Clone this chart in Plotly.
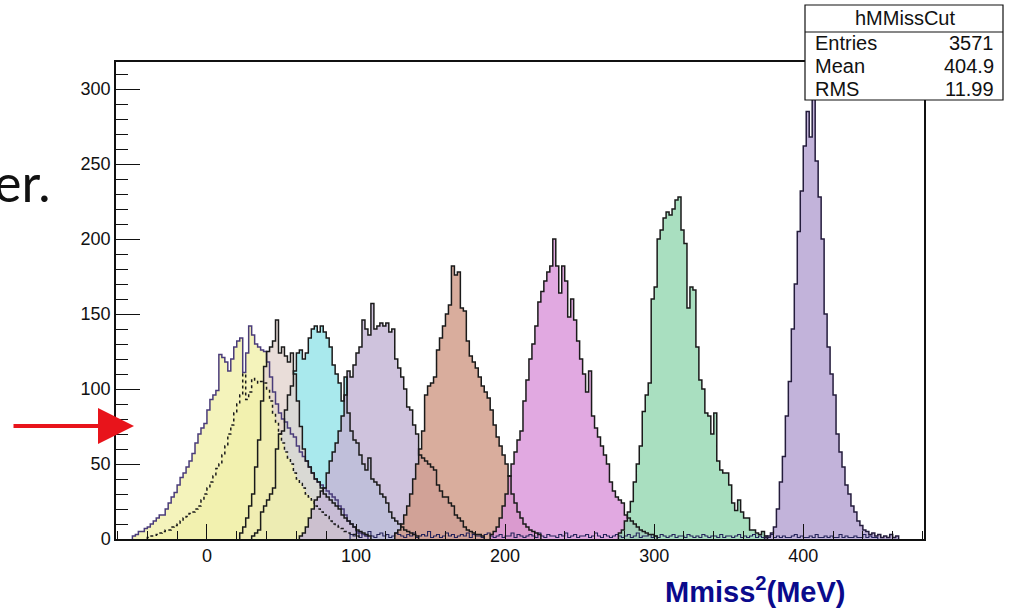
import plotly.graph_objects as go

# ---------------- data (bin width 2, counts typed from the picture) ----------------
BIN_W = 2

# outer yellow histogram (purple outline)
yel_start = -50
yel_counts = [2, 3, 5, 5, 7, 8, 10, 12, 14, 16, 16, 20, 24, 28, 31, 36, 41, 44, 48, 52,
              57, 64, 70, 74, 77, 86, 93, 96, 99, 123, 121, 118, 112, 120, 128, 132, 134, 111, 124, 142,
              136, 130, 128, 126, 125, 118, 108, 98, 90, 84, 80, 78, 74, 70, 68, 62, 58, 55, 52, 48,
              44, 40, 38, 36, 34, 32, 30, 28, 26, 22, 20, 16, 12, 10, 8, 5, 4, 3, 2]

# beige histogram
bei_start = 22
bei_counts = [4, 8, 14, 22, 30, 48, 66, 92, 115, 125, 128, 132, 146, 124, 128, 122, 118, 124, 110, 92,
              75, 60, 52, 48, 44, 40, 38, 34, 30, 28, 26, 24, 22, 20, 16, 14, 12, 10, 8, 6,
              5, 4, 3, 2]

# dotted-outline yellow histogram
dot_start = -40
dot_counts = [1, 2, 2, 3, 4, 5, 6, 6, 8, 9, 10, 12, 14, 15, 17, 18, 20, 22, 26, 30,
              34, 38, 42, 47, 50, 56, 62, 70, 76, 84, 90, 96, 110, 93, 98, 107, 106, 104, 105, 104,
              100, 92, 84, 78, 70, 64, 58, 54, 50, 44, 40, 37, 34, 30, 28, 26, 22, 20, 18, 16,
              15, 12, 10, 9, 8, 7, 5, 4, 3, 3, 2]

# cyan histogram
cya_start = 30
cya_counts = [2, 4, 6, 18, 22, 26, 30, 34, 60, 70, 72, 86, 96, 102, 112, 124, 126, 120, 124, 134,
              140, 142, 138, 142, 138, 134, 128, 116, 110, 104, 92, 108, 84, 72, 66, 64, 56, 50, 46, 54,
              40, 38, 36, 30, 28, 24, 18, 14, 12, 10, 8, 6, 5, 4, 3, 2]

# lavender histogram
lav_start = 62
lav_counts = [2, 4, 8, 14, 20, 26, 28, 32, 34, 44, 52, 58, 64, 72, 82, 96, 112, 108, 116, 124,
              128, 146, 140, 136, 157, 140, 142, 144, 142, 144, 138, 140, 120, 114, 108, 100, 88, 86, 76, 70,
              56, 54, 52, 50, 48, 46, 36, 32, 28, 28, 24, 22, 16, 14, 12, 8, 6, 5, 4, 3,
              3, 2]

# salmon histogram
sal_start = 126
sal_counts = [4, 6, 10, 16, 22, 30, 40, 50, 60, 72, 96, 102, 104, 108, 126, 134, 142, 150, 156, 182,
              176, 178, 154, 152, 132, 122, 118, 114, 108, 102, 98, 94, 86, 76, 68, 62, 56, 50, 42, 30,
              24, 18, 14, 10, 8, 6, 5, 4, 3]

# magenta histogram
mag_start = 190
mag_counts = [3, 5, 8, 14, 22, 30, 42, 50, 58, 66, 72, 92, 106, 120, 130, 142, 158, 165, 172, 178,
              182, 200, 182, 164, 182, 172, 148, 160, 146, 132, 120, 110, 98, 112, 82, 74, 68, 62, 56, 50,
              38, 32, 28, 26, 24, 16, 14, 12, 10, 8, 6, 5, 4, 3, 3, 2]

# green histogram
grn_start = 276
grn_counts = [4, 6, 12, 18, 25, 38, 50, 62, 85, 96, 104, 160, 168, 200, 206, 214, 218, 216, 220, 226,
              228, 206, 197, 154, 168, 166, 128, 106, 100, 84, 82, 70, 84, 52, 46, 44, 44, 36, 24, 19,
              26, 18, 14, 14, 6, 6, 4, 3, 5, 2]

# purple histogram (hMMissCut)
pur_start = 374
pur_counts = [1, 2, 4, 8, 20, 38, 55, 82, 105, 140, 170, 205, 232, 262, 285, 268, 302, 252, 228, 200,
              150, 128, 110, 96, 70, 58, 48, 36, 30, 22, 18, 12, 9, 6, 5, 3, 4, 2, 3, 1,
              2, 1, 3, 1, 2]

# low-level background line along the bottom
bkg_start = 96
bkg_counts = [3, 2, 4, 1, 3, 2, 5, 2, 1, 3, 4, 2, 3, 1, 2, 4, 3, 2, 1, 3,
              2, 4, 1, 2, 3, 2, 5, 1, 2, 3, 1, 2, 4, 2, 3, 1, 2, 3, 2, 4,
              1, 3, 2, 2, 1, 3, 4, 2, 1, 2, 3, 1, 2, 2, 4, 1, 3, 2, 1, 2,
              3, 2, 1, 4, 2, 1, 3, 2, 2, 1, 3, 2, 4, 1, 2, 3, 1, 2, 2, 3,
              1, 2, 4, 2, 1, 3, 2, 1, 2, 3, 2, 1, 2, 3, 1, 2, 4, 1, 2, 2,
              3, 1, 2, 1, 3, 2, 1, 2, 3, 1, 2, 2, 1, 3, 2, 1, 2, 1, 3, 2,
              1, 2, 2, 1, 3, 1, 2, 2, 1, 2, 3, 1, 2, 1, 2, 3, 1, 2, 1, 2,
              1, 3, 1, 2, 1, 2, 1, 1, 2, 3, 1, 2, 1, 1, 2, 1, 3, 1, 1, 2,
              1, 2, 1, 1, 3, 1, 2, 1, 1, 2, 1, 1, 3, 1, 2, 1, 1]

x_ticks = [0, 100, 200, 300, 400]
y_ticks = [0, 50, 100, 150, 200, 250, 300]

stats_title = "hMMissCut"
stats_rows = [("Entries", "3571"), ("Mean", "404.9"), ("RMS", "11.99")]

# ---------------- figure ----------------
W, H = 1013, 610
ML, MR, MT, MB = 116, 89, 62, 71
PW, PH = W - ML - MR, H - MT - MB


def px(x):
    return (x - ML) / PW


def py(y):
    return (H - MB - y) / PH


def step_xy(start, counts):
    xs, ys = [start], [0]
    for i, c in enumerate(counts):
        xs.append(start + i * BIN_W)
        ys.append(c)
    xs.append(start + len(counts) * BIN_W)
    ys.append(0)
    return xs, ys


A = 0.82
hists = [
    # start, counts, fill, line colour, dash
    (yel_start, yel_counts, f"rgba(242,240,172,{A})", "#4a3c7a", "solid"),
    (cya_start, cya_counts, f"rgba(150,228,233,{A})", "#1a1a1a", "solid"),
    (bei_start, bei_counts, f"rgba(228,214,209,{A})", "#1a1a1a", "solid"),
    (dot_start, dot_counts, f"rgba(242,240,172,{A})", "#1a1a1a", "dot"),
    (lav_start, lav_counts, f"rgba(196,182,214,{A})", "#1a1a1a", "solid"),
    (sal_start, sal_counts, f"rgba(209,155,136,{A})", "#1a1a1a", "solid"),
    (mag_start, mag_counts, f"rgba(219,150,219,{A})", "#1a1a1a", "solid"),
    (grn_start, grn_counts, f"rgba(150,216,178,{A})", "#1a1a1a", "solid"),
    (pur_start, pur_counts, f"rgba(180,162,210,{A})", "#241c3c", "solid"),
]

fig = go.Figure()
for start, counts, fc, lc, dash in hists:
    xs, ys = step_xy(start, counts)
    fig.add_trace(go.Scatter(x=xs, y=ys, mode="lines", line=dict(width=0, shape="hv"),
                             fill="tozeroy", fillcolor=fc, hoverinfo="skip", showlegend=False))
bx, by = step_xy(bkg_start, bkg_counts)
fig.add_trace(go.Scatter(x=bx, y=by, mode="lines", line=dict(width=1.1, shape="hv", color="#23235a"),
                         hoverinfo="skip", showlegend=False))
for start, counts, fc, lc, dash in hists:
    xs, ys = step_xy(start, counts)
    fig.add_trace(go.Scatter(x=xs, y=ys, mode="lines",
                             line=dict(width=1.5, shape="hv", color=lc, dash=dash),
                             hoverinfo="skip", showlegend=False))

axis_font = dict(family="Liberation Sans, Arial, sans-serif", size=18, color="#111111")
fig.update_xaxes(range=[-61, 481], tickvals=x_ticks, ticks="inside", ticklen=15, tickwidth=1.2,
                 tickcolor="#111111", showgrid=False, zeroline=False, showline=True, mirror=True,
                 linecolor="#111111", linewidth=1.5, tickfont=axis_font,
                 minor=dict(dtick=20, tick0=0, ticks="inside", ticklen=8, tickcolor="#111111", tickwidth=1))
fig.update_yaxes(range=[0, 318], tickvals=y_ticks, ticks="inside", ticklen=24, tickwidth=1.2,
                 tickcolor="#111111", showgrid=False, zeroline=False, showline=True, mirror=True,
                 linecolor="#111111", linewidth=1.5, tickfont=axis_font,
                 minor=dict(dtick=10, tick0=0, ticks="inside", ticklen=12, tickcolor="#111111", tickwidth=1))

shapes = [
    dict(type="rect", xref="paper", yref="paper", x0=px(805), x1=px(1003), y0=py(100), y1=py(5),
         fillcolor="white", line=dict(color="#111111", width=1.2), layer="above"),
    dict(type="line", xref="paper", yref="paper", x0=px(805), x1=px(1003), y0=py(32), y1=py(32),
         line=dict(color="#111111", width=1.2), layer="above"),
]

stat_font = dict(family="Liberation Sans, Arial, sans-serif", size=20, color="#111111")
annotations = [
    dict(text=stats_title, xref="paper", yref="paper", x=px(905), y=py(18), showarrow=False,
         xanchor="center", yanchor="middle", font=stat_font),
]
for i, (lab, val) in enumerate(stats_rows):
    yy = py(43 + 23 * i)
    annotations.append(dict(text=lab, xref="paper", yref="paper", x=px(813), y=yy, showarrow=False,
                            xanchor="left", yanchor="middle", font=stat_font))
    annotations.append(dict(text=val, xref="paper", yref="paper", x=px(996), y=yy, showarrow=False,
                            xanchor="right", yanchor="middle", font=stat_font))

# x-axis title
annotations.append(dict(text="<b>Mmiss<sup>2</sup>(MeV)</b>", xref="paper", yref="paper",
                        x=px(755), y=py(590), showarrow=False, xanchor="center", yanchor="middle",
                        font=dict(family="Liberation Sans, Arial, sans-serif", size=29, color="#0a0a8c")))
# slide text fragment
annotations.append(dict(text="er.", xref="paper", yref="paper", x=px(-8), y=py(182), showarrow=False,
                        xanchor="left", yanchor="middle",
                        font=dict(family="Lato, Open Sans, sans-serif", size=52, color="#111111")))
# red arrow
annotations.append(dict(text="", xref="paper", yref="paper", x=px(134), y=py(426), ax=-122, ay=0,
                        showarrow=True, arrowhead=2, arrowsize=1.8, arrowwidth=4, arrowcolor="#e8141b"))

fig.update_layout(width=W, height=H, margin=dict(l=ML, r=MR, t=MT, b=MB),
                  paper_bgcolor="white", plot_bgcolor="white", shapes=shapes,
                  annotations=annotations, showlegend=False)

fig.write_html("out.html")
